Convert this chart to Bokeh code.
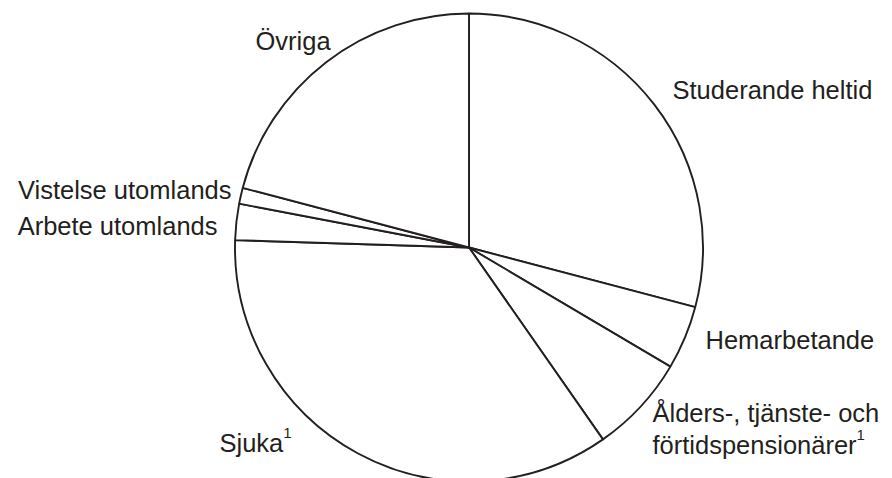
from bokeh.plotting import figure
from bokeh.models import Range1d, ColumnDataSource
from bokeh.core.properties import value
from bokeh.embed import file_html
from bokeh.resources import INLINE
import math

# ---- data (percent shares, clockwise from 12 o'clock) ----
categories = ["Studerande heltid", "Hemarbetande", "Ålders-, tjänste- och förtidspensionärer¹",
              "Sjuka¹", "Arbete utomlands", "Vistelse utomlands", "Övriga"]
shares = [29.1, 4.4, 6.8, 35.2, 2.5, 1.1, 20.9]

# ---- label text lines ----
label_lines = ["Studerande heltid", "Hemarbetande", "Ålders-, tjänste- och", "förtidspensionärer",
               "Sjuka", "Arbete utomlands", "Vistelse utomlands", "Övriga"]
footnote_marks = ["", "", "", "1", "1", "", "", ""]

W, H = 892, 478
p = figure(width=W, height=H, output_backend="svg", toolbar_location=None,
           x_range=Range1d(0, W), y_range=Range1d(-H, 0),
           min_border=0, outline_line_color=None)
p.axis.visible = False
p.grid.visible = False
p.background_fill_color = "white"
p.border_fill_color = "white"

cx, cy, r = 468.5, -247, 234
total = sum(shares)
starts, ends = [], []
cum = 0.0
for s in shares:
    starts.append(math.radians(90 - cum / total * 360))
    cum += s
    ends.append(math.radians(90 - cum / total * 360))

src = ColumnDataSource(dict(start=starts, end=ends, cat=categories))
p.wedge(x=cx, y=cy, radius=r, start_angle="start", end_angle="end", direction="clock",
        source=src, fill_color="white", line_color="#231f20", line_width=1.9)

# label placement (screen px: x, baseline y, align)
DY = 8
place = [(672, 97, "left"), (705, 347, "left"), (652, 420, "left"), (652, 452, "left"),
         (219, 450, "left"), (217, 233, "right"), (231, 197, "right"), (255, 48, "left")]
FS = 25.5
for txt, (x, y, al) in zip(label_lines, place):
    p.text(x=[x], y=[-(y - DY)], text=[txt], text_align=al, text_baseline="alphabetic",
           text_font=value("Liberation Sans"), text_font_size=f"{FS}px", text_color="#231f20")

# superscript footnote marks placed after the text end (Arial metrics estimate)
arial = {'f':278,'ö':556,'r':333,'t':278,'i':222,'d':556,'s':500,'p':556,'e':556,'n':556,
         'o':556,'ä':556,'S':667,'j':222,'u':556,'k':500,'a':556}
for txt, mark, (x, y, al) in zip(label_lines, footnote_marks, place):
    if mark:
        w = sum(arial.get(c, 556) for c in txt) / 1000 * FS
        p.text(x=[x + w], y=[-(y - DY - 10)], text=[mark], text_align="left",
               text_baseline="alphabetic", text_font=value("Liberation Sans"),
               text_font_size="15px", text_color="#231f20")

open("out.html", "w").write(file_html(p, INLINE))
